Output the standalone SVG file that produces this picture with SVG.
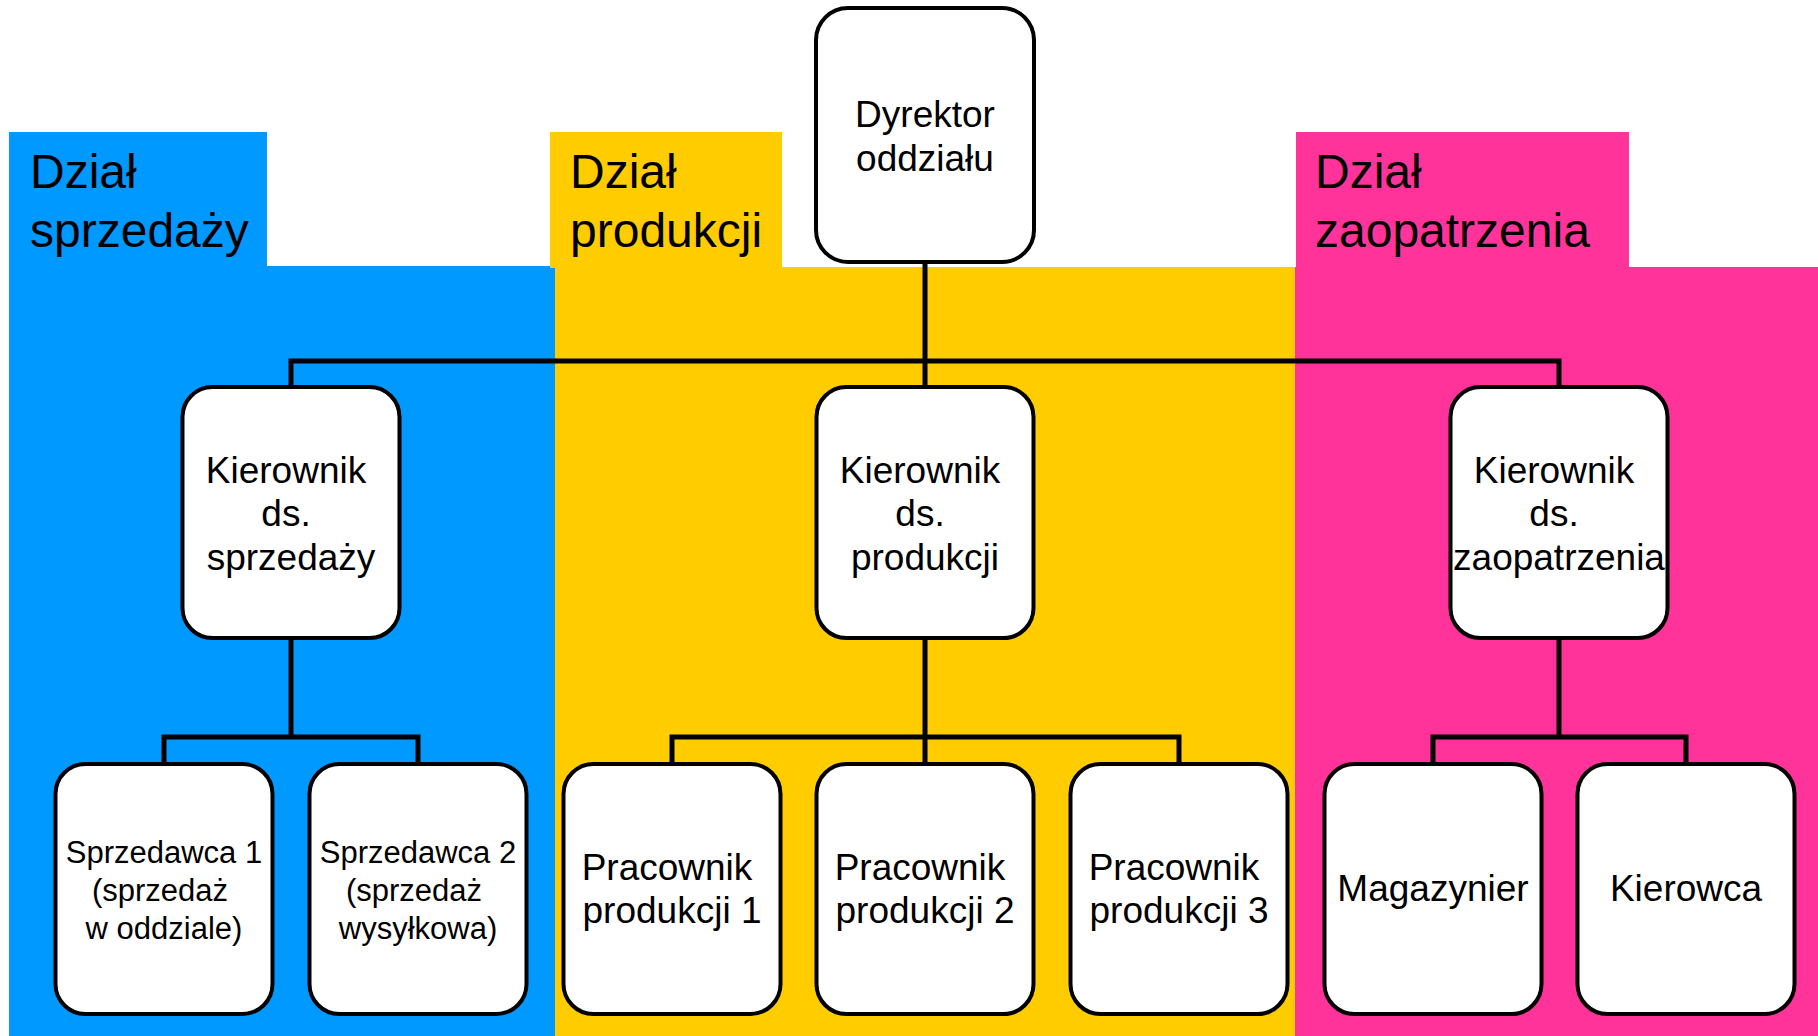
<svg xmlns="http://www.w3.org/2000/svg" width="1818" height="1036" viewBox="0 0 1818 1036">
<style>
.node rect{fill:#fff;stroke:#000;stroke-width:4}
.node text{font-family:"Liberation Sans",Arial,sans-serif;font-size:37px;fill:#000;text-anchor:middle}
.node text.sm{font-size:31px}
.lbl{font-family:"Liberation Sans",Arial,sans-serif;font-size:48px;fill:#000}
#connectors path{fill:none;stroke:#000;stroke-width:5}
</style>
<rect width="1818" height="1036" fill="#fff"/>
<g id="bg-sprzedaz">
<rect x="9" y="132" width="258" height="136" fill="#0099FF"/>
<rect x="9" y="266" width="546" height="770" fill="#0099FF"/>
<text class="lbl" x="30" y="188">Dział</text>
<text class="lbl" x="30" y="247">sprzedaży</text>
</g>
<g id="bg-produkcja">
<rect x="550" y="132" width="232" height="136" fill="#FFCC00"/>
<rect x="555" y="267" width="740" height="769" fill="#FFCC00"/>
<text class="lbl" x="570" y="188">Dział</text>
<text class="lbl" x="570" y="247">produkcji</text>
</g>
<g id="bg-zaopatrzenie">
<rect x="1296" y="132" width="333" height="136" fill="#FF3399"/>
<rect x="1295" y="267" width="523" height="769" fill="#FF3399"/>
<text class="lbl" x="1315" y="188">Dział</text>
<text class="lbl" x="1315" y="247">zaopatrzenia</text>
</g>
<g id="connectors">
<path d="M925 262 V387"/>
<path d="M291 387 V361 H1559 V387"/>
<path d="M291 638 V737"/>
<path d="M164 764 V737 H418 V764"/>
<path d="M925 638 V764"/>
<path d="M672 764 V737 H1179 V764"/>
<path d="M1559 638 V737"/>
<path d="M1433 764 V737 H1686 V764"/>
</g>
<g id="dyrektor" class="node">
<rect x="816" y="8" width="218" height="254" rx="32"/>
<text x="925" y="127">Dyrektor</text>
<text x="925" y="171">oddziału</text>
</g>
<g id="kier-sprzedazy" class="node">
<rect x="182.5" y="387" width="217" height="251" rx="30"/>
<text x="286" y="483">Kierownik</text>
<text x="286" y="526">ds.</text>
<text x="291" y="570">sprzedaży</text>
</g>
<g id="kier-produkcji" class="node">
<rect x="816.5" y="387" width="217" height="251" rx="30"/>
<text x="920" y="483">Kierownik</text>
<text x="920" y="526">ds.</text>
<text x="925" y="570">produkcji</text>
</g>
<g id="kier-zaopatrzenia" class="node">
<rect x="1450.5" y="387" width="217" height="251" rx="30"/>
<text x="1554" y="483">Kierownik</text>
<text x="1554" y="526">ds.</text>
<text x="1559" y="570">zaopatrzenia</text>
</g>
<g id="sprzedawca1" class="node">
<rect x="55.5" y="764" width="217" height="250" rx="30"/>
<text class="sm" x="164" y="863">Sprzedawca 1</text>
<text class="sm" x="160" y="901">(sprzedaż</text>
<text class="sm" x="164" y="939">w oddziale)</text>
</g>
<g id="sprzedawca2" class="node">
<rect x="309.5" y="764" width="217" height="250" rx="30"/>
<text class="sm" x="418" y="863">Sprzedawca 2</text>
<text class="sm" x="414" y="901">(sprzedaż</text>
<text class="sm" x="418" y="939">wysyłkowa)</text>
</g>
<g id="pracownik1" class="node">
<rect x="563.5" y="764" width="217" height="250" rx="30"/>
<text x="667" y="880">Pracownik</text>
<text x="672" y="923">produkcji 1</text>
</g>
<g id="pracownik2" class="node">
<rect x="816.5" y="764" width="217" height="250" rx="30"/>
<text x="920" y="880">Pracownik</text>
<text x="925" y="923">produkcji 2</text>
</g>
<g id="pracownik3" class="node">
<rect x="1070.5" y="764" width="217" height="250" rx="30"/>
<text x="1174" y="880">Pracownik</text>
<text x="1179" y="923">produkcji 3</text>
</g>
<g id="magazynier" class="node">
<rect x="1324.5" y="764" width="217" height="250" rx="30"/>
<text x="1433" y="901">Magazynier</text>
</g>
<g id="kierowca" class="node">
<rect x="1577.5" y="764" width="217" height="250" rx="30"/>
<text x="1686" y="901">Kierowca</text>
</g>
</svg>
